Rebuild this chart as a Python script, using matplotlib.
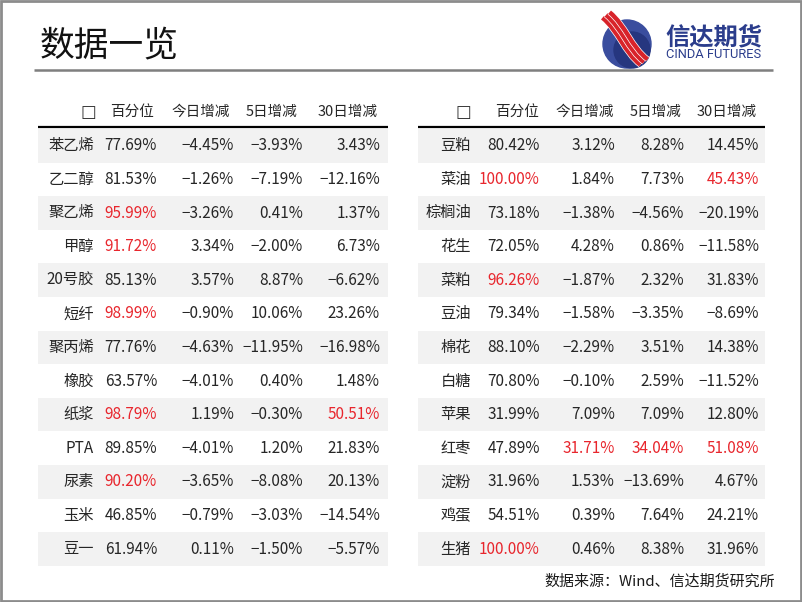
import matplotlib
matplotlib.use('Agg')
import matplotlib.pyplot as plt
import matplotlib.patches as mpatches
import matplotlib.patheffects as pe
from matplotlib.path import Path
import numpy as np

plt.rcParams['font.family'] = ['Noto Sans CJK SC', 'DejaVu Sans']

# 表头
headers = ['□', '百分位', '今日增减', '5日增减', '30日增减']

# 左表
left_names = ['苯乙烯', '乙二醇', '聚乙烯', '甲醇', '20号胶', '短纤', '聚丙烯',
              '橡胶', '纸浆', 'PTA', '尿素', '玉米', '豆一']
left_pct = [77.69, 81.53, 95.99, 91.72, 85.13, 98.99, 77.76, 63.57, 98.79, 89.85, 90.20, 46.85, 61.94]
left_d1 = [-4.45, -1.26, -3.26, 3.34, 3.57, -0.90, -4.63, -4.01, 1.19, -4.01, -3.65, -0.79, 0.11]
left_d5 = [-3.93, -7.19, 0.41, -2.00, 8.87, 10.06, -11.95, 0.40, -0.30, 1.20, -8.08, -3.03, -1.50]
left_d30 = [3.43, -12.16, 1.37, 6.73, -6.62, 23.26, -16.98, 1.48, 50.51, 21.83, 20.13, -14.54, -5.57]

# 右表
right_names = ['豆粕', '菜油', '棕榈油', '花生', '菜粕', '豆油', '棉花',
               '白糖', '苹果', '红枣', '淀粉', '鸡蛋', '生猪']
right_pct = [80.42, 100.00, 73.18, 72.05, 96.26, 79.34, 88.10, 70.80, 31.99, 47.89, 31.96, 54.51, 100.00]
right_d1 = [3.12, 1.84, -1.38, 4.28, -1.87, -1.58, -2.29, -0.10, 7.09, 31.71, 1.53, 0.39, 0.46]
right_d5 = [8.28, 7.73, -4.56, 0.86, 2.32, -3.35, 3.51, 2.59, 7.09, 34.04, -13.69, 7.64, 8.38]
right_d30 = [14.45, 45.43, -20.19, -11.58, 31.83, -8.69, 14.38, -11.52, 12.80, 51.08, 4.67, 24.21, 31.96]

# 标红阈值（每列）
red_limits = [90, 30, 30, 40]

RED = '#e8262d'
TXT = '#262626'
GRAY = '#f2f2f2'

fig = plt.figure(figsize=(8.02, 6.02), dpi=100)
ax = fig.add_axes([0, 0, 1, 1])
ax.set_xlim(0, 802)
ax.set_ylim(602, 0)
ax.axis('off')

# 外框
ax.add_patch(mpatches.Rectangle((1, 1), 800, 600, fill=False, ec='#8c8c8c', lw=2))

# 标题
ax.text(40, 46, '数据一览', fontsize=25, fontweight='light', color='#111111', va='center', ha='left')
ax.plot([34, 773], [70, 70], color='#7f7f7f', lw=1.8, solid_capstyle='butt')

# logo
ax.add_patch(mpatches.Circle((627, 44), 24, color='#3a4d9e', zorder=3))
ax.add_patch(mpatches.Circle((632, 50), 18, color='#26367f', zorder=3))
dx, dy = 0.79, -0.61
for off in [-4.5, 0, 4.5]:
    verts = [(606 + off * dx, 15 + off * dy), (622 + off * dx, 28 + off * dy),
             (628 + off * dx, 50 + off * dy), (644 + off * dx, 62 + off * dy)]
    p = Path(verts, [Path.MOVETO, Path.CURVE4, Path.CURVE4, Path.CURVE4])
    ax.add_patch(mpatches.PathPatch(p, fill=False, ec='#d8232a', lw=3.2, zorder=4,
                                    capstyle='butt',
                                    path_effects=[pe.Stroke(linewidth=4.2, foreground='white'), pe.Normal()]))
ax.text(665, 37, '信达期货', fontsize=17.5, fontweight='bold', color='#2b3d8c', va='center', ha='left')
ax.text(666, 55, 'CINDA FUTURES', fontsize=9.3, color='#2b3d8c', va='center', ha='left',
        family=['Roboto', 'DejaVu Sans'])


def fmt(v):
    s = f'{abs(v):.2f}%'
    return ('−' if v < 0 else '') + s


def draw_table(x0, x1, name_r, col_r, head_c, names, cols):
    top = 129
    rh = 33.6
    # 表头
    ax.text(head_c[0], 112, headers[0], fontsize=12, color='#333333', ha='center', va='center',
            family=['DejaVu Sans'])
    for j in range(1, 5):
        ax.text(head_c[j], 112, headers[j], fontsize=10.5, color=TXT, ha='center', va='center')
    for i, nm in enumerate(names):
        y0 = top + i * rh
        if i % 2 == 0:
            ax.add_patch(mpatches.Rectangle((x0, y0), x1 - x0, rh, color=GRAY, lw=0))
        yc = y0 + rh / 2
        ax.text(name_r, yc, nm, fontsize=11, color=TXT, ha='right', va='center')
        for j, col in enumerate(cols):
            v = col[i]
            c = RED if v >= red_limits[j] else TXT
            ax.text(col_r[j], yc, fmt(v), fontsize=11, color=c, ha='right', va='center')
    ax.plot([x0, x1], [127, 127], color='black', lw=1.6, solid_capstyle='butt')


draw_table(38, 388, 94, [157, 234, 303, 380], [88, 132, 201, 272, 348],
           left_names, [left_pct, left_d1, left_d5, left_d30])
draw_table(418, 765, 471, [540, 615, 684, 759], [463, 517, 585, 656, 727],
           right_names, [right_pct, right_d1, right_d5, right_d30])

# 来源
ax.text(775, 581, '数据来源：Wind、信达期货研究所', fontsize=10.8, color='#1a1a1a', ha='right', va='center')

fig.savefig('out.png', dpi=100)
